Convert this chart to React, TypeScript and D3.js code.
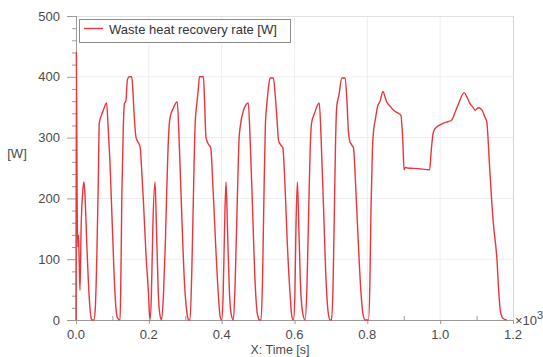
import * as d3 from 'd3'

// time in seconds (axis shown in x10^3 s), waste heat recovery rate in W
const timeS = [
  0, 1, 3, 5, 7, 9, 11, 14, 19, 22, 25, 30, 36, 41, 43, 49, 53, 57, 61, 64, 70, 75, 84, 88, 93, 100, 107, 111, 114, 121,
  123, 126, 130, 133, 137, 141, 146, 153, 156, 159, 165, 171, 176, 180, 185, 192, 199, 203, 207, 211, 217, 221, 226, 230, 235,
  240, 245, 249, 254, 258, 267, 278, 283, 290, 298, 305, 309, 313, 318, 323, 327, 332, 336, 339, 350, 353, 357, 363, 370,
  376, 383, 390, 396, 400, 404, 408, 412, 416, 421, 426, 432, 437, 443, 448, 451, 460, 473, 478, 485, 492, 498, 504, 508,
  512, 516, 520, 524, 528, 533, 542, 547, 552, 556, 562, 568, 574, 580, 587, 593, 597, 601, 604, 608, 612, 617, 623, 629,
  634, 639, 643, 647, 655, 668, 673, 680, 687, 693, 698, 702, 706, 710, 713, 716, 722, 730, 739, 744, 748, 751, 757, 762,
  768, 775, 782, 788, 794, 803, 807, 810, 814, 817, 822, 828, 835, 843, 848, 853, 862, 872, 882, 892, 897, 901, 905, 910,
  940, 971, 975, 980, 984, 990, 1000, 1015, 1032, 1040, 1050, 1066, 1074, 1082, 1090, 1096, 1105, 1112, 1117, 1122, 1128,
  1135, 1141, 1147, 1153, 1156, 1160, 1165, 1170, 1174, 1183,
]
const heatW = [
  0, 440, 200, 120, 140, 90, 49, 150, 215, 227, 200, 120, 40, 5, 0, 0, 20, 99, 220, 324, 337, 345, 357, 320, 263, 150, 44, 12, 3, 0,
  60, 208, 320, 356, 360, 395, 400, 400, 380, 345, 300, 292, 285, 250, 197, 110, 44, 0, 40, 153, 227, 150, 44, 10, 0,
  40, 120, 208, 300, 332, 348, 359, 300, 180, 60, 10, 0, 0, 80, 220, 320, 357, 380, 400, 400, 360, 300, 290, 283,
  220, 130, 50, 5, 0, 40, 153, 227, 150, 50, 10, 0, 60, 200, 300, 318, 345, 357, 300, 180, 60, 10, 0, 0,
  60, 200, 320, 355, 380, 398, 398, 370, 330, 296, 288, 283, 220, 130, 50, 5, 0, 40, 153, 227, 150, 50, 10, 0,
  50, 180, 280, 324, 340, 357, 300, 180, 60, 10, 0, 0, 60, 200, 300, 351, 370, 398, 398, 360, 310, 296, 288, 283,
  220, 130, 50, 10, 0, 0, 60, 180, 280, 310, 330, 351, 360, 376, 368, 359, 352, 345, 341, 337, 300, 247, 251, 250,
  249, 247, 275, 305, 313, 317, 321, 325, 329, 340, 355, 374, 366, 356, 350, 345, 349, 347, 343, 335, 326,
  260, 200, 153, 120, 99, 55, 16, 5, 2, 0,
]
const xMajor = [0, 200, 400, 600, 800, 1000, 1200]
const xMinor = [100, 300, 500, 700, 900, 1100]
const yMajor = [0, 100, 200, 300, 400, 500]
const seriesName = 'Waste heat recovery rate  [W]'

const W = 543
const H = 357
const left = 76, right = 513, top = 16, bottom = 320

export default function App() {
  const x = d3.scaleLinear().domain([0, 1200]).range([left, right])
  const y = d3.scaleLinear().domain([0, 500]).range([bottom, top])
  const yMinor = d3.range(0, 501, 20).filter(v => v % 100 !== 0)

  const pts = timeS.map((t, i) => [t, heatW[i]] as [number, number])
  const line = d3.line<[number, number]>()
    .x(d => x(d[0]))
    .y(d => y(d[1]))
    .curve(d3.curveMonotoneX)

  const font = '"Liberation Sans", Arial, sans-serif'
  const txt = '#4a4a4a'
  const axis = '#9a9a9a'

  return (
    <svg width={W} height={H} style={{ position: 'absolute', left: 0, top: 0, background: '#fff' }}
      fontFamily={font} fontSize={13}>
      {/* grid */}
      {yMajor.filter(v => v > 0 && v < 500).map(v => (
        <line key={'gy' + v} x1={left} x2={right} y1={y(v)} y2={y(v)} stroke="#eeeeee" />
      ))}
      {xMajor.filter(v => v > 0 && v < 1200).map(v => (
        <line key={'gx' + v} x1={x(v)} x2={x(v)} y1={top} y2={bottom} stroke="#eeeeee" />
      ))}
      <line x1={left} x2={right} y1={top + 0.5} y2={top + 0.5} stroke="#e2e2e2" />
      <line x1={right + 0.5} x2={right + 0.5} y1={top} y2={bottom} stroke="#d4d4d4" />

      {/* y axis */}
      <line x1={left + 0.5} x2={left + 0.5} y1={top} y2={bottom} stroke={axis} />
      {yMajor.map(v => (
        <g key={'yt' + v}>
          <line x1={left - 9} x2={left} y1={y(v) + 0.5} y2={y(v) + 0.5} stroke={axis} />
          <text x={left - 16} y={y(v)} dy="0.35em" textAnchor="end" fill={txt}>{v}</text>
        </g>
      ))}
      {yMinor.map(v => (
        <line key={'ym' + v} x1={left - 4} x2={left} y1={y(v) + 0.5} y2={y(v) + 0.5} stroke={axis} />
      ))}
      <text x={17} y={153} dy="0.35em" textAnchor="middle" fill={txt}>[W]</text>

      {/* x axis */}
      <line x1={left} x2={right} y1={bottom + 0.5} y2={bottom + 0.5} stroke={axis} />
      {xMajor.map(v => (
        <g key={'xt' + v}>
          <line x1={x(v) + 0.5} x2={x(v) + 0.5} y1={bottom} y2={bottom + 4} stroke={axis} />
          <text x={x(v)} y={334} dy="0.35em" textAnchor="middle" fill={txt}>{(v / 1000).toFixed(1)}</text>
        </g>
      ))}
      {xMinor.map(v => (
        <line key={'xm' + v} x1={x(v) + 0.5} x2={x(v) + 0.5} y1={bottom - 4} y2={bottom} stroke={axis} />
      ))}
      <text x={280} y={350} dy="0.35em" textAnchor="middle" fontSize={12.5} fill={txt}>X: Time [s]</text>
      <text x={515} y={320} dy="0.35em" fill={txt}>×10<tspan dy="-6" fontSize={11}>3</tspan></text>

      {/* series */}
      <path d={line(pts) ?? ''} fill="none" stroke="#e8363c" strokeWidth={1.4} strokeLinejoin="round" />

      {/* legend */}
      <rect x={79.5} y={19.5} width={211} height={23} fill="#fff" stroke="#8c8c8c" />
      <line x1={84} x2={103} y1={28.5} y2={28.5} stroke="#e8363c" strokeWidth={1.4} />
      <text x={109} y={29} dy="0.35em" fill="#333">{seriesName}</text>
    </svg>
  )
}
